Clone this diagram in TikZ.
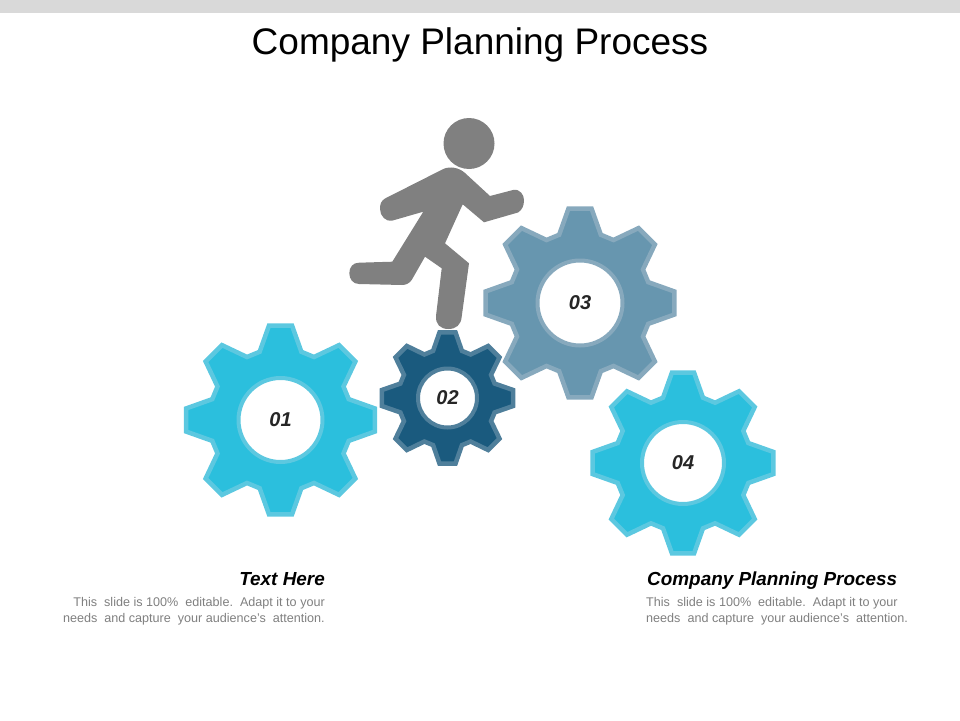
\documentclass[tikz,border=0pt]{standalone}
\usepackage{fontspec}
\setmainfont{Liberation Sans}
\definecolor{barGrey}{HTML}{D9D9D9}
\definecolor{runnerGrey}{HTML}{808080}
\definecolor{bodyGrey}{HTML}{7F7F7F}
\definecolor{cyanFill}{HTML}{2BBFDD}
\definecolor{cyanEdge}{HTML}{5CC8E0}
\definecolor{navyFill}{HTML}{1A5A7E}
\definecolor{navyEdge}{HTML}{4F7F9B}
\definecolor{steelFill}{HTML}{6796AF}
\definecolor{steelEdge}{HTML}{87A9BD}
\tikzset{
  gearbody/.style={line width=4.5pt, miter limit=10},
  gearhole/.style={circle, fill=white, line width=4pt, inner sep=0pt,
    font=\fontsize{20}{20}\selectfont\bfseries\itshape, text=black!85},
  heading/.style={font=\fontsize{18.9}{22}\selectfont\bfseries\itshape, inner sep=0pt},
  bodytext/.style={font=\fontsize{12.6}{16}\selectfont, text=bodyGrey, inner sep=0pt}
}
% name, x, y, outer radius, hole radius, fill, edge, label
\newcommand{\drawgear}[8]{
  \pgfmathsetmacro{\tipR}{#4-1.5}
  \pgfmathsetmacro{\baseR}{0.76*#4-2}
  \begin{scope}[shift={(#2,#3)}]
    \draw[gearbody, fill=#6, draw=#7] (-7:\tipR) -- (7:\tipR)
      \foreach \a in {45,90,...,315} {
        -- (\a-28:\baseR) -- (\a-17:\baseR) -- (\a-7:\tipR) -- (\a+7:\tipR)
      } -- (332:\baseR) -- (343:\baseR) -- cycle;
  \end{scope}
  \node[gearhole, draw=#7, minimum size=#5*2pt] (#1) at (#2,#3) {#8};
}
\begin{document}
\begin{tikzpicture}[x=1pt, y=-1pt]
    \useasboundingbox (0,0) rectangle (960,720);

    % --- Top bar and title ---
    \fill[barGrey] (0,0) rectangle (960,13);
    \node[font=\fontsize{37}{40}\selectfont, inner sep=0pt] (title) at (480,45) {Company Planning Process};

    % --- Gears ---
    \drawgear{gearA}{280.5}{420}{96.5}{42}{cyanFill}{cyanEdge}{01}
    \drawgear{gearB}{447.5}{398}{67.5}{29.5}{navyFill}{navyEdge}{02}
    \drawgear{gearC}{580}{303}{96.5}{42.5}{steelFill}{steelEdge}{03}
    \drawgear{gearD}{683}{463}{92.5}{41}{cyanFill}{cyanEdge}{04}

    % --- Runner ---
    \fill[runnerGrey] (469,143.5) circle (25.5);
    \fill[runnerGrey] (385,198.5) -- (443.3,169)
      .. controls (450,166) and (459,167.5) .. (465,173)
      -- (490,196) -- (513,190)
      .. controls (520,188.5) and (524,195) .. (524,200)
      .. controls (524,206) and (522,210) .. (518,212.5)
      -- (484,222.3) -- (462.7,204.3) -- (445,243.3) -- (469,263.3) -- (461.7,316.7)
      .. controls (461,325) and (456,329) .. (448.3,329)
      .. controls (440,329) and (435.5,324) .. (436,316)
      -- (441.7,268.3) -- (425,256.7) -- (411.7,280)
      .. controls (409,283.5) and (406,285) .. (402,285)
      -- (359,284)
      .. controls (353,284) and (349.3,279) .. (349.3,273.3)
      .. controls (349.3,267) and (353,262.7) .. (359,262.7)
      -- (392.3,261.7) -- (423.3,211.7) -- (392,220.7)
      .. controls (386,222) and (380,216) .. (380,209)
      .. controls (380,204) and (381,201) .. (385,198.5) -- cycle;

    % --- Captions ---
    \node[heading, anchor=base east] (leftHead) at (325,585) {Text Here};
    \node[bodytext, anchor=base east] (leftLineA) at (325,606) {This\ \ slide is 100\%\ \ editable.\ \ Adapt it to your};
    \node[bodytext, anchor=base east] (leftLineB) at (325,622) {needs\ \ and capture\ \ your audience's\ \ attention.};
    \node[heading, anchor=base west] (rightHead) at (647,585) {Company Planning Process};
    \node[bodytext, anchor=base west] (rightLineA) at (646,606) {This\ \ slide is 100\%\ \ editable.\ \ Adapt it to your};
    \node[bodytext, anchor=base west] (rightLineB) at (646,622) {needs\ \ and capture\ \ your audience's\ \ attention.};
\end{tikzpicture}
\end{document}
